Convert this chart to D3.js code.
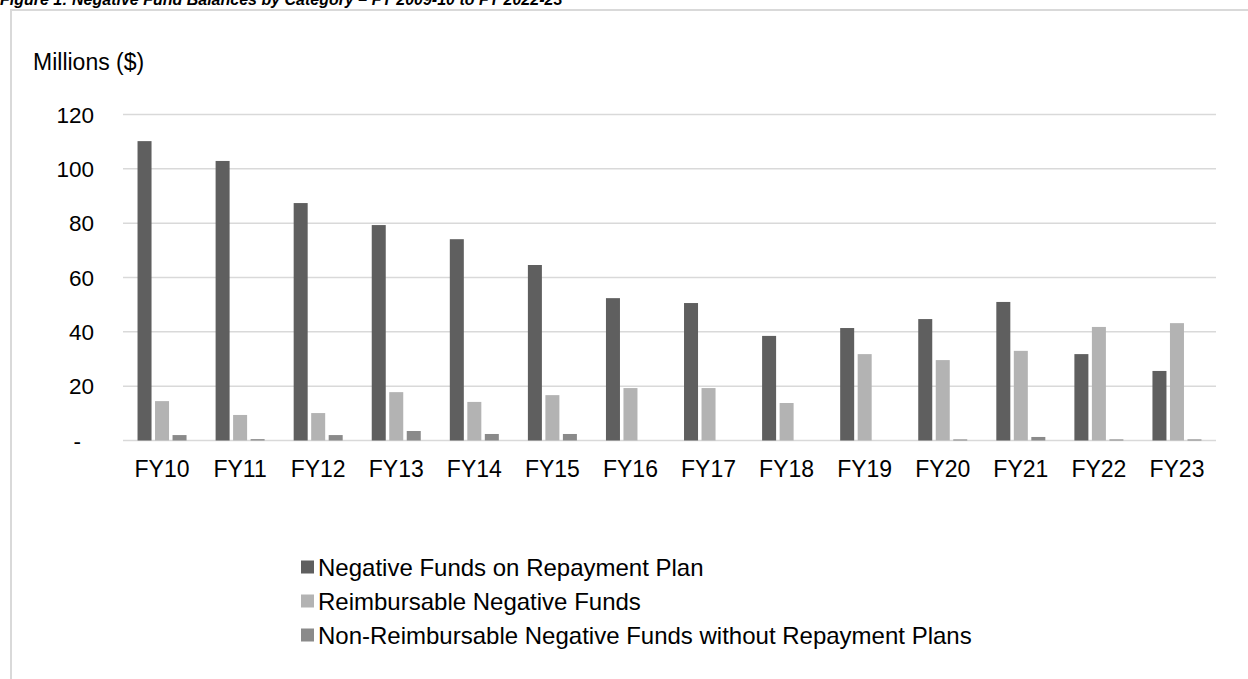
<!DOCTYPE html>
<html><head>
<meta charset="utf-8">
<script src="https://d3js.org/d3.v7.min.js"></script>
<style>
  body { margin: 0; background: #fff; }
  svg text { font-family: "Liberation Sans", Arial, sans-serif; fill: #000; }
</style>
</head>
<body>
<svg id="chart" width="1248" height="679"></svg>
<script>
// values (millions $)
let categories = ["FY10","FY11","FY12","FY13","FY14","FY15","FY16","FY17","FY18","FY19","FY20","FY21","FY22","FY23"];
let repaymentPlan = [110.2, 102.9, 87.4, 79.3, 74.1, 64.6, 52.4, 50.6, 38.5, 41.4, 44.7, 51.0, 31.8, 25.6];
let reimbursable = [14.5, 9.4, 10.1, 17.8, 14.2, 16.7, 19.3, 19.3, 13.8, 31.8, 29.6, 33.0, 41.8, 43.2];
let nonReimbursable = [2.0, 0.5, 2.0, 3.5, 2.4, 2.4, 0, 0, 0, 0, 0.4, 1.3, 0.4, 0.4];
let seriesNames = ["Negative Funds on Repayment Plan", "Reimbursable Negative Funds", "Non-Reimbursable Negative Funds without Repayment Plans"];
let seriesColors = ["#5f5f5f", "#b3b3b3", "#8a8a8a"];
let yTicks = [0, 20, 40, 60, 80, 100, 120];

let svg = d3.select("#chart");

// title (cut off at top of the image, as in the source)
svg.append("text")
  .attr("x", 0).attr("y", 5)
  .style("font-size", "16px")
  .style("font-weight", "bold")
  .style("font-style", "italic")
  .text("Figure 1: Negative Fund Balances by Category \u2013 FY 2009-10 to FY 2022-23");

// chart area border
svg.append("rect")
  .attr("x", 11).attr("y", 10)
  .attr("width", 1260).attr("height", 700)
  .style("fill", "none")
  .style("stroke", "#d9d9d9")
  .style("stroke-width", 2);

let x = d3.scaleBand().domain(categories).range([123, 1216]);
let x1 = d3.scaleBand().domain([0, 1, 2]).range([0, x.bandwidth()]).paddingInner(0.2).paddingOuter(0.83);
let y = d3.scaleLinear().domain([0, 120]).range([440.5, 114.5]);

// gridlines
svg.append("g").selectAll("line")
  .data(yTicks)
  .join("line")
  .attr("x1", 123).attr("x2", 1216)
  .attr("y1", d => y(d)).attr("y2", d => y(d))
  .style("stroke", "#d9d9d9")
  .style("stroke-width", 1.5);

// y labels
svg.append("g").selectAll("text")
  .data(yTicks)
  .join("text")
  .attr("x", d => d == 0 ? 81 : 94)
  .attr("y", d => y(d) + 8)
  .attr("text-anchor", "end")
  .style("font-size", "22.5px")
  .text(d => d == 0 ? "-" : d);

svg.append("text")
  .attr("x", 33).attr("y", 70)
  .style("font-size", "23px")
  .text("Millions ($)");

// bars
let allSeries = [repaymentPlan, reimbursable, nonReimbursable];
allSeries.forEach((vals, s) => {
  svg.append("g").selectAll("rect")
    .data(vals)
    .join("rect")
    .attr("x", (d, i) => x(categories[i]) + x1(s))
    .attr("width", x1.bandwidth())
    .attr("y", d => y(d))
    .attr("height", d => y(0) - y(d))
    .style("fill", seriesColors[s]);
});

// x labels
svg.append("g").selectAll("text")
  .data(categories)
  .join("text")
  .attr("x", d => x(d) + x.bandwidth() / 2)
  .attr("y", 477)
  .attr("text-anchor", "middle")
  .style("font-size", "23px")
  .text(d => d);

// legend
let legend = svg.append("g").selectAll("g")
  .data(seriesNames)
  .join("g")
  .attr("transform", (d, i) => "translate(301," + (567 + i * 34) + ")");

legend.append("rect")
  .attr("x", 0).attr("y", -6.5)
  .attr("width", 13).attr("height", 13)
  .style("fill", (d, i) => seriesColors[i]);

legend.append("text")
  .attr("x", 17).attr("y", 8.5)
  .style("font-size", "24px")
  .text(d => d);
</script>
</body></html>
